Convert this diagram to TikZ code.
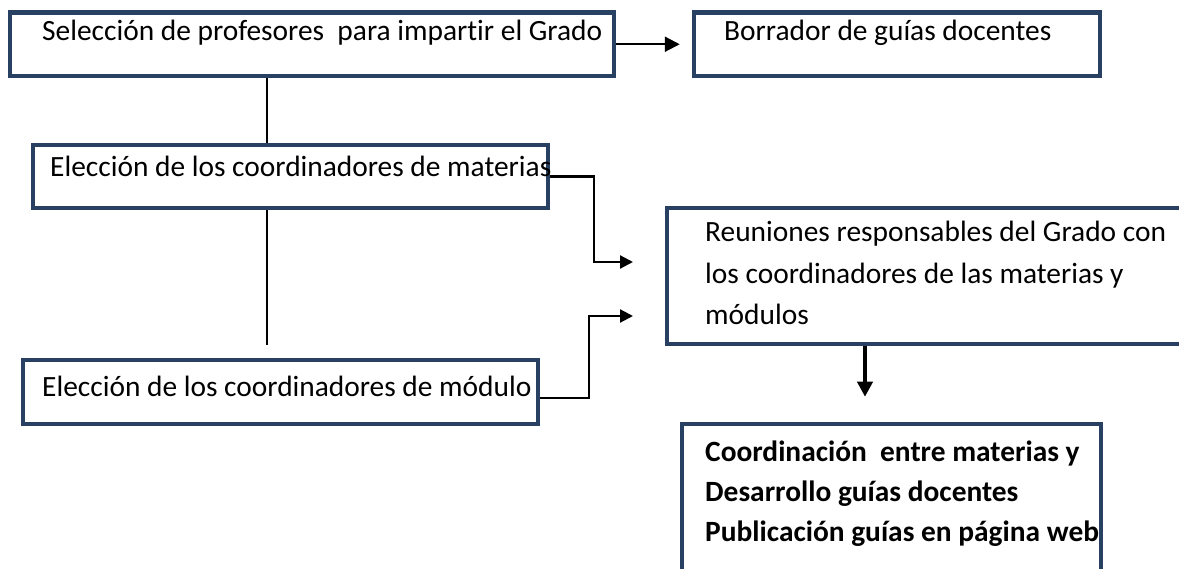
\documentclass[tikz,border=0pt]{standalone}
\usepackage{fontspec}
\setmainfont{Carlito}[Ligatures=NoCommon]
\usepackage{tikz}
\usetikzlibrary{arrows.meta}
\definecolor{boxblue}{RGB}{40,64,98}

\begin{document}
\begin{tikzpicture}[x=1pt, y=-1pt,
  frame/.style={draw=boxblue, line width=4.5pt, rectangle, inner sep=0pt},
  txt/.style={anchor=base west, inner sep=0pt, font=\fontsize{29.4}{35}\selectfont},
  btxt/.style={txt, font=\fontsize{29.4}{35}\selectfont\bfseries},
  conn/.style={line width=2.2pt, -{Triangle[length=13pt, width=13pt]}}]

\useasboundingbox (0,0) rectangle (1179,569);

\node [frame, minimum width=604pt, minimum height=63.5pt] (sel) at (312,44.25) {};
\node [frame, minimum width=406pt, minimum height=63.5pt] (bor) at (897,44.25) {};
\node [frame, minimum width=515pt, minimum height=63pt] (mat) at (290.5,176.5) {};
\node [frame, minimum width=515pt, minimum height=64pt] (mod) at (280.5,392) {};
\node [frame, minimum width=523pt, minimum height=136pt] (reu) at (928.5,276) {};
\node [frame, minimum width=419pt, minimum height=147pt] (coo) at (891.5,497.5) {};

\node [txt] (seltxt) at (42,41) {Selección de profesores~ para impartir el Grado};
\node [txt] (bortxt) at (724,41) {Borrador de guías docentes};
\node [txt] (mattxt) at (50,177) {Elección de los coordinadores de materias};
\node [txt] (modtxt) at (42,397) {Elección de los coordinadores de módulo};

\foreach \line [count=\i] in {Reuniones responsables del Grado con, los coordinadores de las materias y, módulos}
  \node [txt] (reutxt\i) at (705,{200.5+41.5*\i}) {\line};

\foreach \line [count=\i] in {Coordinación~ entre materias y, Desarrollo guías docentes, Publicación guías en página web}
  \node [btxt] (cootxt\i) at (705,{421+40*\i}) {\line};

\coordinate (spine) at (267,0);
\coordinate (spineend) at (267,345);
\coordinate (inmat) at (633,262);
\coordinate (inmod) at (633,316);
\coordinate (drop) at (865,0);

\draw [line width=2pt] (sel.south -| spine) to (mat.north -| spine);
\draw [line width=2pt] (mat.south -| spine) to (spineend);

\draw [conn, -{Triangle[length=15pt, width=15pt]}, shorten >=12pt] (sel.east) to (bor.west);
\draw [conn] (mat.east) -- ++(44,0) |- (inmat);
\draw [conn] ([yshift=-6pt]mod.east) -- ++(49,0) |- (inmod);
\draw [conn, line width=4.5pt, -{Triangle[length=15pt, width=15pt]}, shorten >=25pt] (reu.south -| drop) to (coo.north -| drop);

\end{tikzpicture}
\end{document}
